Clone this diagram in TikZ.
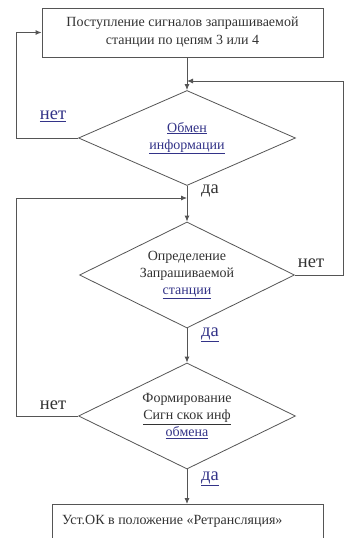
\documentclass[tikz,border=0pt]{standalone}
\usepackage{fontspec}
\setmainfont{Liberation Serif}
\usetikzlibrary{shapes.geometric,arrows.meta}
\definecolor{ln}{HTML}{555555}
\definecolor{lnk}{HTML}{333388}
\tikzset{
  x=1pt,y=-1pt,
  boxnode/.style={draw=ln,line width=0.8pt,rectangle,inner sep=0pt,align=center,font=\fontsize{14}{18}\selectfont,text=black!80},
  dia/.style={draw=ln,line width=0.8pt,diamond,aspect=2.1,inner sep=0pt,align=center,font=\fontsize{14}{17}\selectfont,text=black!80},
  conn/.style={draw=ln,line width=0.9pt},
  arr/.style={conn,-{Latex[length=6pt,width=5pt]}},
  lbl/.style={font=\fontsize{18.5}{20}\selectfont,text=black!80,inner sep=0pt},
  lnklbl/.style={font=\fontsize{18.5}{20}\selectfont,text=lnk,inner sep=0pt},
}
\begin{document}
\begin{tikzpicture}
\useasboundingbox (0,0) rectangle (345,538);
\clip (0,0) rectangle (345,538);
\fill[white] (0,0) rectangle (345,538);
\node[boxnode,minimum width=281pt,minimum height=49pt] (b1) at (182.5,32.5)
  {Поступление сигналов запрашиваемой\\станции по цепям 3 или 4};
\node[dia,minimum width=217pt,minimum height=95pt] (d1) at (187,138)
  {\textcolor{lnk}{\underline{Обмен}}\\\textcolor{lnk}{\underline{информации}}};
\node[dia,minimum width=215pt,minimum height=106pt] (d2) at (187,275)
  {Определение\\Запрашиваемой\\\textcolor{lnk}{\underline{станции}}};
\node[dia,minimum width=217pt,minimum height=106pt] (d3) at (187,416)
  {Формирование\\\underline{Сигн скок инф}\\\textcolor{lnk}{\underline{обмена}}};
\node[boxnode,minimum width=271pt,minimum height=50pt,anchor=north west] (b2) at (52,504) {};
\node[font=\fontsize{14}{17}\selectfont,text=black!80,anchor=west,inner sep=0pt] (t2) at (62,521)
  {Уст.ОК в положение «Ретрансляция»};

% coordinates
\coordinate (b1s) at (b1.south -| d1.north);
\coordinate (m1) at (187,81);
\coordinate (r1) at (343,81);
\coordinate (r2) at (d2.east -| r1);
\coordinate (l1a) at (16,138);
\coordinate (l1b) at (16,32.5);
\coordinate (l3a) at (16,416);
\coordinate (l3b) at (16,198);
\coordinate (m2) at (187,198);

\draw[arr] (b1s) -- (d1.north);
\draw[arr] (d2.east) -- (r2) -- (r1) -- (m1);
\draw[arr] (d1.west) -- (l1a) -- (l1b) -- (b1.west);
\draw[arr] (d1.south) -- (d2.north);
\draw[arr] (d3.west) -- (l3a) -- (l3b) -- (m2);
\draw[arr] (d2.south) -- (d3.north);
\draw[arr] (d3.south) -- (b2.north -| d3.south);

\node[lnklbl] (n1) at (53,116) {\underline{нет}};
\node[lbl] (y1) at (210,191) {да};
\node[lbl] (n2) at (311,263) {нет};
\node[lnklbl] (y2) at (210,335) {\underline{да}};
\node[lbl] (n3) at (53,405) {нет};
\node[lnklbl] (y3) at (210,479) {\underline{да}};
\end{tikzpicture}
\end{document}
